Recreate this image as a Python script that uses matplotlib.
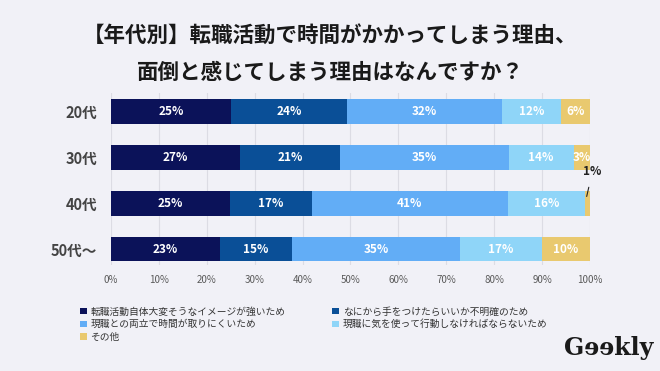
import matplotlib.pyplot as plt

plt.rcParams['font.family'] = ['Noto Sans CJK JP', 'DejaVu Sans']

ages = ['20代', '30代', '40代', '50代〜']
reasons = ['転職活動自体大変そうなイメージが強いため',
           'なにから手をつけたらいいか不明確のため',
           '現職との両立で時間が取りにくいため',
           '現職に気を使って行動しなければならないため',
           'その他']
# percent per age group, one list per reason
image_hard = [25.1, 26.9, 24.9, 22.8]
unclear_start = [24.2, 21.0, 17.0, 15.0]
no_time = [32.4, 35.1, 41.0, 35.1]
careful_job = [12.2, 13.6, 16.1, 17.0]
other = [6.1, 3.4, 1.0, 10.0]
colors = ['#0b1259', '#0a4f97', '#62adf6', '#8fd5f8', '#e9c96f']

series = [image_hard, unclear_start, no_time, careful_job, other]
bg = '#f1f1f7'

fig = plt.figure(figsize=(6.6, 3.71), dpi=100, facecolor=bg)
ax = fig.add_axes([0.168, 0.286, 0.726, 0.463], facecolor=bg)

left = [0.0] * len(ages)
bars = []
for vals, col, name in zip(series, colors, reasons):
    b = ax.barh(ages, vals, left=left, height=0.53, color=col, label=name, zorder=3)
    bars.append(b)
    for i, (rect, v) in enumerate(zip(b, vals)):
        cx = rect.get_x() + rect.get_width() / 2
        cy = rect.get_y() + rect.get_height() / 2
        if v >= 2.5:
            ax.text(cx, cy, '%.0f%%' % v, ha='center', va='center',
                    color='white', fontsize=8.5, fontweight='bold', zorder=4)
        else:
            # small slice: label above with a leader line
            ax.annotate('%.0f%%' % v, xy=(cx - 0.2, cy - 0.15), xytext=(cx + 1.0, cy - 0.7),
                        ha='center', va='center', fontsize=8.5, color='#222222',
                        fontweight='bold',
                        arrowprops=dict(arrowstyle='-', color='#222222', lw=0.8,
                                        shrinkA=5, shrinkB=0))
    left = [l + v for l, v in zip(left, vals)]

ax.set_xlim(0, 100)
ax.set_ylim(3.34, -0.40)
ax.set_xticks(range(0, 101, 10))
ax.set_xticklabels(['%d%%' % t for t in range(0, 101, 10)])
ax.tick_params(axis='x', length=0, labelsize=7, labelcolor='#5a5a5a', pad=7)
ax.tick_params(axis='y', length=0, labelsize=10.5, labelcolor='#444444', pad=10)
for lab in ax.get_yticklabels():
    lab.set_fontweight('bold')
ax.grid(axis='x', color='#dcdce4', lw=0.8, zorder=0)
for s in ax.spines.values():
    s.set_visible(False)

fig.text(0.5, 0.905, '【年代別】転職活動で時間がかかってしまう理由、', ha='center', va='center',
         fontsize=15.5, fontweight='bold', color='#1a1a1a')
fig.text(0.5, 0.805, '面倒と感じてしまう理由はなんですか？', ha='center', va='center',
         fontsize=15.5, fontweight='bold', color='#1a1a1a')

order = [0, 2, 4, 1, 3]
handles = [bars[i] for i in order]
labels = [reasons[i] for i in order]
fig.legend(handles, labels, loc='upper left', bbox_to_anchor=(0.121, 0.174), ncol=2,
           frameon=False, fontsize=7, handlelength=0.7, handleheight=0.7,
           handletextpad=0.4, columnspacing=4.8, labelspacing=0.3,
           labelcolor='#333333', borderaxespad=0, borderpad=0)

fig.text(0.922, 0.062, 'Gɘɘkly', ha='center', va='center', fontsize=17,
         fontweight='bold', family=['DejaVu Serif'], color='#1a1a1a')

fig.savefig('out.png', dpi=100, facecolor=bg)
